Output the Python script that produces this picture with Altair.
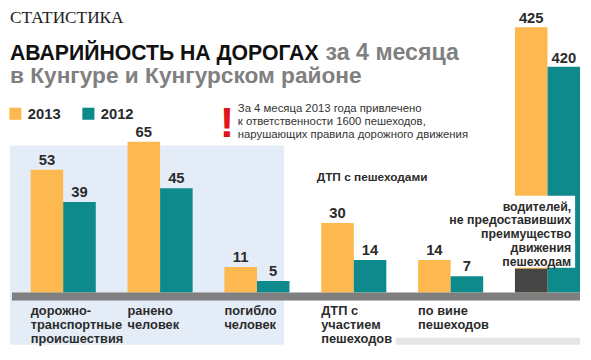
import altair as alt
import pandas as pd

# ---------------- data ----------------
categories = [
    "дорожно-\nтранспортные\nпроисшествия",
    "ранено\nчеловек",
    "погибло\nчеловек",
    "ДТП с\nучастием\nпешеходов",
    "по вине\nпешеходов",
    "водителей,\nне предоставивших\nпреимущество\nдвижения\nпешеходам",
]
years = ["2013", "2012"]
values_2013 = [53, 65, 11, 30, 14, 425]
values_2012 = [39, 45, 5, 14, 7, 420]

note_text = ("За 4 месяца 2013 года привлечено\n"
             "к ответственности 1600 пешеходов,\n"
             "нарушающих правила дорожного движения")

# ---------------- styles ----------------
YELLOW = "#FDB84F"
TEAL = "#0F8A8C"
DARK = "#2B2B2B"
GRAY_TITLE = "#808080"
SANS = "Liberation Sans, Arial, sans-serif"
SERIF = "Liberation Serif, DejaVu Serif, serif"

rows = []
for i, c in enumerate(categories):
    rows.append({"cat": c, "year": "2013", "value": values_2013[i], "grp": i})
    rows.append({"cat": c, "year": "2012", "value": values_2012[i], "grp": i})
df = pd.DataFrame(rows)
df_main = df[df.grp < 5]
df_big = df[df.grp == 5]
df_lab = pd.DataFrame({"cat": categories[:5]})
df_box = pd.DataFrame({"cat": categories[5:]})
one = pd.DataFrame({"a": [0]})

x_scale = alt.Scale(domain=categories, range=[23, 580], paddingInner=0.328, paddingOuter=0)
X = alt.X("cat:N", scale=x_scale, axis=None, sort=categories)
XO = alt.XOffset("year:N", scale=alt.Scale(domain=years), sort=years)
COLOR = alt.Color(
    "year:N",
    scale=alt.Scale(domain=years, range=[YELLOW, TEAL]),
    sort=years,
    legend=alt.Legend(
        orient="none", legendX=0, legendY=97, direction="horizontal", title=None,
        symbolType="square", symbolSize=150, symbolStrokeWidth=0, symbolOpacity=1,
        labelFont=SANS, labelFontSize=15, labelFontWeight="bold", labelColor=DARK,
        labelOffset=5, columnPadding=20, padding=0,
    ),
)

# ---------------- background decorations ----------------
panel = alt.Chart(one).mark_rect(color="#E4EDF7").encode(
    x=alt.value(2), x2=alt.value(280), y=alt.value(137), y2=alt.value(339))
strip = alt.Chart(one).mark_rect(color="#E6E6E6").encode(
    x=alt.value(393), x2=alt.value(580), y=alt.value(332), y2=alt.value(339))

# ---------------- main groups ----------------
y_main = alt.Y("value:Q", scale=alt.Scale(domain=[0, 100], range=[286, 51], nice=False), axis=None)
base_main = alt.Chart(df_main).encode(x=X, xOffset=XO, y=y_main)
bars_main = base_main.mark_bar().encode(color=COLOR)
text_main = base_main.mark_text(baseline="alphabetic", dy=-5, font=SANS, fontSize=15,
                                fontWeight="bold", color=DARK).encode(text="value:Q")
layer_main = alt.layer(bars_main, text_main)

# ---------------- big group (own scale, as in the original) ----------------
BIG_MIN = 391.4
y_big = alt.Y("value:Q", scale=alt.Scale(domain=[BIG_MIN, 425], range=[286, 17], zero=False, nice=False), axis=None)
base_big = alt.Chart(df_big).encode(x=X, xOffset=XO, y=y_big)
bars_big = base_big.mark_bar().encode(color=COLOR, y2=alt.datum(BIG_MIN))
text_big = base_big.mark_text(baseline="alphabetic", dy=-4, font=SANS, fontSize=15,
                              fontWeight="bold", color=DARK).encode(text="value:Q")
layer_big = alt.layer(bars_big, text_big)

dark_block = alt.Chart(df_big[df_big.year == "2013"]).mark_bar(color="#454545").encode(
    x=X, xOffset=XO, y=alt.value(262), y2=alt.value(286))
white_box = alt.Chart(one).mark_rect(color="white").encode(
    x=alt.value(489), x2=alt.value(575), y=alt.value(188), y2=alt.value(261))
box_text = alt.Chart(df_box).mark_text(
    align="right", baseline="alphabetic", lineBreak="\n", lineHeight=14,
    font=SANS, fontSize=12.5, fontWeight="bold", color=DARK).encode(
    x=alt.value(571), y=alt.value(203), text="cat:N")

# ---------------- baseline ----------------
baseline = alt.Chart(one).mark_rect(color="#7F7F7F").encode(
    x=alt.value(4), x2=alt.value(580), y=alt.value(286), y2=alt.value(294))

# ---------------- category labels ----------------
cat_labels = alt.Chart(df_lab).mark_text(
    align="left", baseline="alphabetic", lineBreak="\n", lineHeight=14,
    font=SANS, fontSize=13, fontWeight="bold", color=DARK).encode(
    x=alt.X("cat:N", scale=x_scale, axis=None, sort=categories, bandPosition=0),
    y=alt.value(309), text="cat:N")

# ---------------- titles and notes ----------------
def txt(s, x, y, **kw):
    return alt.Chart(one).mark_text(align="left", baseline="alphabetic", **kw).encode(
        x=alt.value(x), y=alt.value(y), text=alt.value(s))

t_rubric = txt("СТАТИСТИКА", 2, 13, font=SERIF, fontSize=17.5, color="#222222")
t_main = txt("АВАРИЙНОСТЬ НА ДОРОГАХ", 2, 50, font=SANS, fontSize=21.5, fontWeight="bold", color="#111111")
t_main2 = txt("за 4 месяца", 322, 50, font=SANS, fontSize=23.5, fontWeight="bold", color=GRAY_TITLE)
t_sub = txt("в Кунгуре и Кунгурском районе", 2, 74, font=SANS, fontSize=23, fontWeight="bold", color=GRAY_TITLE)
t_excl = alt.Chart(one).mark_text(align="center", baseline="alphabetic", font=SANS, fontSize=44,
                                   fontWeight="bold", color="#E3141B").encode(
    x=alt.value(222), y=alt.value(128), text=alt.value("!"))
t_note = alt.Chart(pd.DataFrame({"t": [note_text]})).mark_text(
    align="left", baseline="alphabetic", lineBreak="\n", lineHeight=13,
    font=SANS, fontSize=11.5, color="#333333").encode(
    x=alt.value(233), y=alt.value(103), text="t:N")
t_ped = txt("ДТП с пешеходами", 313, 173, font=SANS, fontSize=12, fontWeight="bold", color=DARK)

chart = alt.layer(
    panel, strip, layer_main, layer_big, dark_block, white_box, box_text, baseline,
    cat_labels, t_rubric, t_main, t_main2, t_sub, t_excl, t_note, t_ped,
).resolve_scale(y="independent").properties(
    width=583, height=352, autosize=alt.AutoSizeParams(type="none"), padding=0,
    background="white",
).configure_view(stroke=None)

chart.save("out.html", embed_options={"renderer": "svg", "actions": False})
